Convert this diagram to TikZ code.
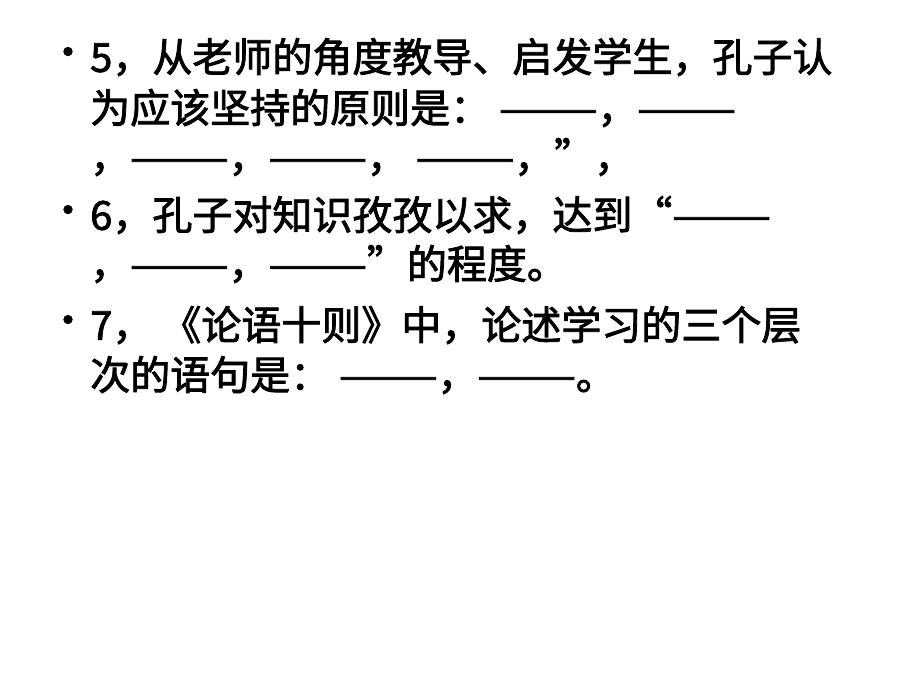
\documentclass[tikz,border=0pt]{standalone}
\usepackage{fontspec}
\newfontfamily\cjk[FakeBold=2]{Noto Sans CJK SC}
\usetikzlibrary{positioning}
\begin{document}
\begin{tikzpicture}[x=1pt,y=-1pt,inner sep=0pt,
  line/.style={anchor=west,font=\cjk\fontsize{40}{40}\selectfont},
  dot/.style={anchor=center,font=\cjk\fontsize{40}{40}\selectfont}]
\useasboundingbox (0,0) rectangle (920,690);
\fill[white] (0,0) rectangle (920,690);
\node[dot] (b5) at (68,57) {•};
\node[line] (l1) at (90,57) {5，从老师的角度教导、启发学生，孔子认};
\node[line] (l2) at (90,108) {为应该坚持的原则是：\ ———，———};
\node[line] (l3) at (90,157) {，———，———，\ ———，”，};
\node[dot] (b6) at (68,215) {•};
\node[line] (l4) at (90,215) {6，孔子对知识孜孜以求，达到“———};
\node[line] (l5) at (90,264) {，———，———”的程度。};
\node[dot] (b7) at (68,325) {•};
\node[line] (l6) at (90,325) {7，\ 《论语十则》中，论述学习的三个层};
\node[line] (l7) at (90,375) {次的语句是：\ ———，———。};
\end{tikzpicture}
\end{document}
